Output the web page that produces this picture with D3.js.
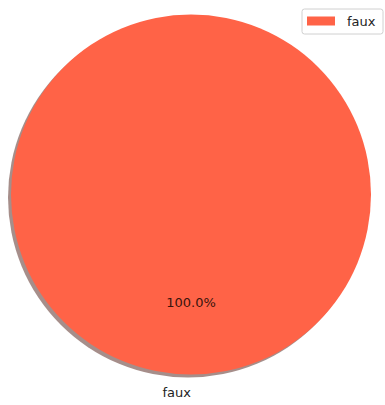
<!DOCTYPE html>
<html>
<head>
<meta charset="utf-8">
<script src="https://cdn.jsdelivr.net/npm/d3@7"></script>
<style>
  html, body { margin: 0; padding: 0; background: #fff; }
  svg { display: block; font-family: "DejaVu Sans", sans-serif; }
</style>
</head>
<body>
<svg id="chart" width="385" height="405"></svg>
<script>
// Pie data
const categories = ["faux"];
const values = [1];
const colors = ["#FF6347"];

const W = 385, H = 405;
const cx = 191, cy = 194.5, R = 180;
const shadowDx = -3, shadowDy = 3;

const svg = d3.select("#chart");

// counterclockwise from 12 o'clock
const pie = d3.pie().value(d => d).sort(null).startAngle(0).endAngle(-2 * Math.PI);
const arcs = pie(values);
const arc = d3.arc().innerRadius(0).outerRadius(R);
const color = d3.scaleOrdinal().domain(categories).range(colors);
const total = d3.sum(values);

// darkened, translucent copy of each wedge as its shadow
const shadowColor = c => {
  const rgb = d3.rgb(c);
  return d3.rgb(rgb.r * 0.3, rgb.g * 0.3, rgb.b * 0.3);
};

const g = svg.append("g").attr("transform", `translate(${cx},${cy})`);

g.selectAll("path.shadow")
  .data(arcs)
  .join("path")
  .attr("class", "shadow")
  .attr("transform", `translate(${shadowDx},${shadowDy})`)
  .attr("d", arc)
  .attr("fill", (d, i) => shadowColor(color(categories[i])))
  .attr("fill-opacity", 0.5);

g.selectAll("path.wedge")
  .data(arcs)
  .join("path")
  .attr("class", "wedge")
  .attr("d", arc)
  .attr("fill", (d, i) => color(categories[i]));

// category labels outside the wedge
g.selectAll("text.label")
  .data(arcs)
  .join("text")
  .attr("class", "label")
  .each(function (d, i) {
    const a = (d.startAngle + d.endAngle) / 2;
    const x = 1.1 * R * Math.sin(a);
    const y = -1.1 * R * Math.cos(a);
    d3.select(this)
      .attr("x", x)
      .attr("y", y)
      .attr("text-anchor", x > 0 ? "start" : "end")
      .attr("dominant-baseline", "central")
      .text(categories[i]);
  })
  .attr("font-size", 13)
  .attr("fill", "#222");

// percentage labels inside the wedge
g.selectAll("text.pct")
  .data(arcs)
  .join("text")
  .attr("class", "pct")
  .each(function (d) {
    const a = (d.startAngle + d.endAngle) / 2;
    d3.select(this)
      .attr("x", 0.6 * R * Math.sin(a))
      .attr("y", -0.6 * R * Math.cos(a))
      .text((100 * d.data / total).toFixed(1) + "%");
  })
  .attr("text-anchor", "middle")
  .attr("dominant-baseline", "central")
  .attr("font-size", 13)
  .attr("fill", "#3a140c");

// legend
const legend = svg.append("g").attr("transform", "translate(302,9)");
legend.append("rect")
  .attr("width", 81).attr("height", 25)
  .attr("rx", 2.5)
  .attr("fill", "#fff").attr("fill-opacity", 0.8)
  .attr("stroke", "#d0d0d0").attr("stroke-width", 1);
legend.selectAll("rect.swatch")
  .data(categories)
  .join("rect")
  .attr("class", "swatch")
  .attr("x", 5).attr("y", 7.5)
  .attr("width", 28).attr("height", 9)
  .attr("fill", d => color(d));
legend.selectAll("text")
  .data(categories)
  .join("text")
  .attr("x", 45).attr("y", 12.5)
  .attr("dominant-baseline", "central")
  .attr("font-size", 13)
  .attr("fill", "#222")
  .text(d => d);
</script>
</body>
</html>
